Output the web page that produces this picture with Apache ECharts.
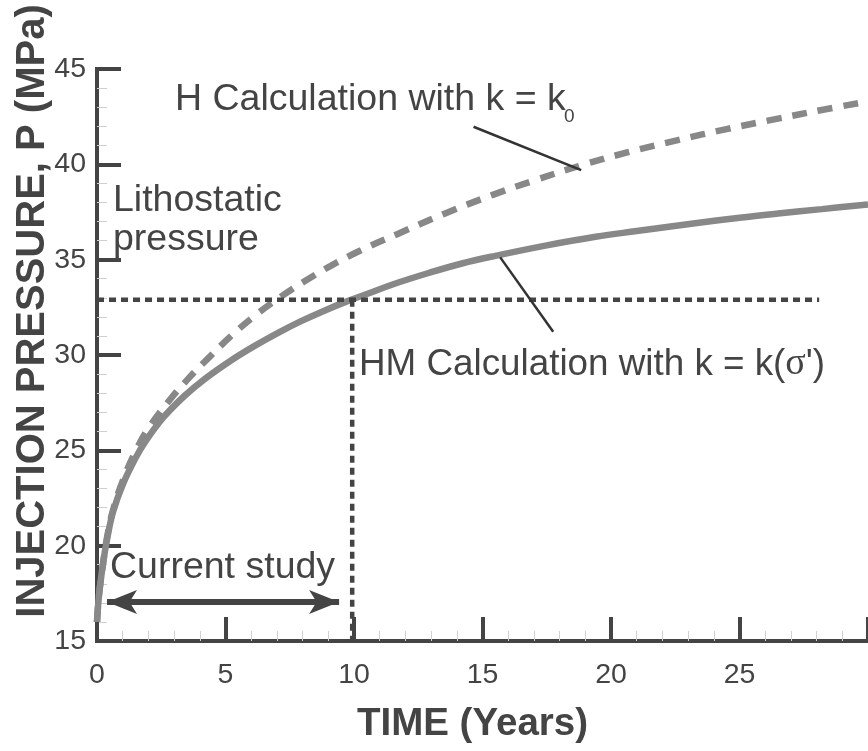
<!DOCTYPE html>
<html>
<head>
<meta charset="utf-8">
<title>Injection pressure vs time</title>
<script src="https://cdn.jsdelivr.net/npm/echarts@6/dist/echarts.min.js"></script>
<style>
  html, body { margin: 0; padding: 0; background: #fff; }
  #chart { width: 868px; height: 751px; }
</style>
</head>
<body>
<div id="chart"></div>
<script>
// Injection pressure (MPa) over time (years)
// HM calculation, permeability depends on effective stress: k = k(σ')
const timeHM = [0, 0.05, 0.12, 0.25, 0.4, 0.63, 1.0, 1.5, 1.9, 2.6, 3.4, 4.2, 5.2, 6.1, 7.1, 7.9, 8.8, 9.7, 10.5, 11.5, 12.9, 14.2, 15.5, 17.5, 19.4, 21.0, 23.2, 25.0, 26.5, 28.2, 30.0];
const pressureHM = [16.0, 17.0, 17.9, 19.2, 20.4, 21.8, 23.2, 24.6, 25.5, 26.75, 27.85, 28.75, 29.7, 30.45, 31.2, 31.75, 32.3, 32.8, 33.2, 33.7, 34.3, 34.8, 35.2, 35.75, 36.2, 36.5, 36.9, 37.2, 37.42, 37.65, 37.9];

// H calculation, constant permeability k = k0
const timeH = [0, 0.05, 0.12, 0.25, 0.4, 0.63, 1.0, 1.5, 2.0, 2.83, 3.58, 4.38, 5.22, 6.15, 7.16, 8.06, 9.06, 10.19, 11.7, 13.5, 15.4, 17.0, 18.85, 20.7, 22.6, 24.5, 26.5, 28.2, 30.0];
const pressureH = [16.0, 17.0, 17.9, 19.2, 20.5, 21.9, 23.4, 24.95, 26.15, 27.64, 28.8, 29.9, 31.0, 32.07, 33.06, 33.85, 34.65, 35.44, 36.35, 37.4, 38.4, 39.15, 39.95, 40.65, 41.27, 41.85, 42.4, 42.85, 43.3];

// Reference levels
const lithostaticPressure = 32.9;   // MPa
const lithostaticLineEnd = 28.1;    // years
const studyEndYear = 9.93;          // end of the current study period

// "Current study" span arrow
const studySpan = [0.39, 9.42];
const studyArrowLevel = 17.05;

// Leader lines: [[t0, p0], [t1, p1]]
const leaderH = [[14.65, 41.97], [18.84, 39.70]];
const leaderHM = [[15.69, 35.12], [17.75, 31.22]];

const axisRange = { xMin: 0, xMax: 30, xStep: 5, yMin: 15, yMax: 45, yStep: 5 };

const pair = (xs, ys) => xs.map((x, i) => [x, ys[i]]);

const INK = '#444';
const CURVE = '#888';
const FONT = '"Liberation Sans", Arial, Helvetica, sans-serif';
const NOTE = '37.5px ' + FONT;

const chart = echarts.init(document.getElementById('chart'), null, { renderer: 'canvas' });

const axisCommon = {
  type: 'value',
  axisLine: { show: true, lineStyle: { color: INK, width: 4, cap: 'square' } },
  axisTick: { show: true, inside: true, length: 24, lineStyle: { color: INK, width: 4 } },
  minorTick: { show: true, splitNumber: 5, length: 10, lineStyle: { color: '#cfcfcf', width: 1 } },
  splitLine: { show: false },
  minorSplitLine: { show: false },
  axisLabel: { color: INK, fontFamily: FONT, fontSize: 28.5 }
};

chart.setOption({
  backgroundColor: '#fff',
  animation: false,
  grid: { left: 97, right: -3, top: 69, bottom: 110, containLabel: false },
  xAxis: Object.assign({}, axisCommon, {
    min: axisRange.xMin, max: axisRange.xMax, interval: axisRange.xStep,
    axisLabel: Object.assign({}, axisCommon.axisLabel, { margin: 20, showMaxLabel: false })
  }),
  yAxis: Object.assign({}, axisCommon, {
    min: axisRange.yMin, max: axisRange.yMax, interval: axisRange.yStep,
    axisLabel: Object.assign({}, axisCommon.axisLabel, { margin: 11 })
  }),
  series: [
    {
      name: 'H Calculation with k = k0',
      type: 'line',
      data: pair(timeH, pressureH),
      showSymbol: false,
      smooth: 0.4,
      lineStyle: { color: CURVE, width: 6.5, type: [15, 11] },
      z: 3
    },
    {
      name: 'HM Calculation with k = k(σ\')',
      type: 'line',
      data: pair(timeHM, pressureHM),
      showSymbol: false,
      smooth: 0.4,
      lineStyle: { color: CURVE, width: 6.5 },
      z: 3
    },
    {
      name: 'Lithostatic pressure',
      type: 'line',
      data: [[axisRange.xMin, lithostaticPressure], [lithostaticLineEnd, lithostaticPressure]],
      showSymbol: false,
      lineStyle: { color: INK, width: 4.5, type: [7, 5] },
      z: 4
    },
    {
      name: 'End of current study',
      type: 'line',
      data: [[studyEndYear, lithostaticPressure], [studyEndYear, axisRange.yMin]],
      showSymbol: false,
      lineStyle: { color: INK, width: 4.5, type: [7, 5] },
      z: 4
    },
    {
      name: 'annotations',
      type: 'line',
      data: [],
      silent: true,
      markLine: {
        silent: true,
        animation: false,
        label: { show: false },
        emphasis: { disabled: true },
        data: [
          [
            { coord: [studySpan[0], studyArrowLevel], symbol: 'arrow', symbolSize: [18, 30] },
            { coord: [studySpan[1], studyArrowLevel], symbol: 'arrow', symbolSize: [18, 30] }
          ],
          [
            { coord: leaderH[0], symbol: 'none' },
            { coord: leaderH[1], symbol: 'none', lineStyle: { width: 2.5, color: '#333', type: 'solid' } }
          ],
          [
            { coord: leaderHM[0], symbol: 'none' },
            { coord: leaderHM[1], symbol: 'none', lineStyle: { width: 2.5, color: '#333', type: 'solid' } }
          ]
        ],
        lineStyle: { color: INK, width: 6, type: 'solid' },
        itemStyle: { color: INK }
      },
      z: 5
    }
  ],
  graphic: [
    {
      type: 'text', x: 175, y: 99.5,
      style: { text: 'H Calculation with k = k', fill: INK, font: NOTE, textAlign: 'left', textVerticalAlign: 'middle' }
    },
    {
      type: 'text', x: 564, y: 116.5,
      style: { text: '0', fill: INK, font: '19px ' + FONT, textAlign: 'left', textVerticalAlign: 'middle' }
    },
    {
      type: 'text', x: 113, y: 201,
      style: { text: 'Lithostatic', fill: INK, font: NOTE, textAlign: 'left', textVerticalAlign: 'middle' }
    },
    {
      type: 'text', x: 113, y: 240,
      style: { text: 'pressure', fill: INK, font: NOTE, textAlign: 'left', textVerticalAlign: 'middle' }
    },
    {
      type: 'text', x: 359, y: 364.5,
      style: {
        text: '{a|HM Calculation with k = k(}{s|σ}{a|\')}',
        textAlign: 'left', textVerticalAlign: 'middle',
        rich: {
          a: { fill: INK, font: '36.8px ' + FONT },
          s: { fill: INK, font: '38px "Liberation Serif", "DejaVu Serif", serif' }
        }
      }
    },
    {
      type: 'text', x: 110, y: 568,
      style: { text: 'Current study', fill: INK, font: NOTE, textAlign: 'left', textVerticalAlign: 'middle' }
    },
    {
      type: 'text', x: 472.5, y: 724.5,
      style: { text: 'TIME (Years)', fill: INK, font: 'bold 38.5px ' + FONT, textAlign: 'center', textVerticalAlign: 'middle' }
    },
    {
      type: 'text', x: 32.5, y: 311, rotation: Math.PI / 2,
      style: { text: 'INJECTION PRESSURE, P (MPa)', fill: INK, font: 'bold 40px ' + FONT, textAlign: 'center', textVerticalAlign: 'middle' }
    }
  ]
});
</script>
</body>
</html>
